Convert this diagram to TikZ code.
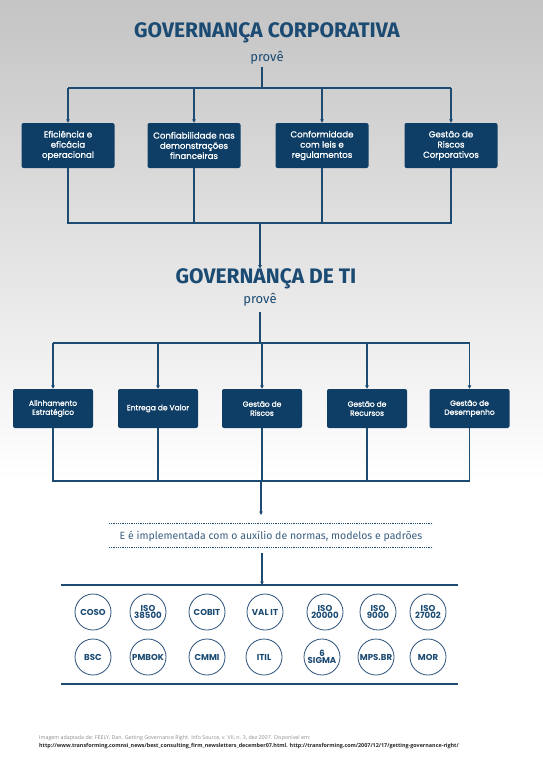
\documentclass[tikz,border=0pt]{standalone}
\usepackage{fontspec}
\setmainfont{Fira Sans}
\newfontfamily\boxfont[FakeBold=1.2]{Poppins}
\newfontfamily\ringfont{Poppins}
\newfontfamily\notefont{Open Sans}
\usepackage{xcolor}
\usetikzlibrary{arrows.meta, positioning, calc}
\definecolor{navyfill}{HTML}{0E3E66}
\definecolor{titletext}{HTML}{1B4A72}
\definecolor{linedraw}{HTML}{1E4B72}
\definecolor{midtext}{HTML}{3A5F80}
\definecolor{ringdraw}{HTML}{2B517A}
\definecolor{bgtop}{HTML}{C4C4C4}
\definecolor{bgmid}{HTML}{E8E8E8}
\tikzset{
  ttl/.style={font=\bfseries\fontsize{21}{23}\selectfont, text=titletext, inner sep=0pt},
  sub/.style={font=\fontsize{13}{14}\selectfont, text=titletext, inner sep=0pt},
  blk/.style={rectangle, rounded corners=2pt, fill=navyfill, text=white, align=center, inner sep=2pt},
  bigbox/.style={blk, minimum width=93pt, minimum height=45pt, font=\boxfont\fontsize{8.6}{10.2}\selectfont},
  smallbox/.style={blk, minimum width=80pt, minimum height=39pt, font=\boxfont\fontsize{7.5}{9}\selectfont},
  ring/.style={circle, draw=ringdraw, line width=0.8pt, minimum size=36pt, inner sep=0pt, align=center, text=titletext, font=\ringfont\bfseries\fontsize{8.6}{7.4}\selectfont},
  ln/.style={draw=linedraw, line width=1.2pt},
  arr/.style={ln, -{Triangle[length=3.5pt, width=3.5pt]}},
  dots/.style={draw=linedraw, line width=0.9pt, dash pattern=on 0.9pt off 0.9pt},
  rule/.style={draw=linedraw, line width=2pt},
}
\begin{document}
\begin{tikzpicture}[x=1pt, y=-1pt]
  % background
  \useasboundingbox (0,0) rectangle (543,768);
  \fill[white] (0,0) rectangle (543,768);
  \shade[top color=bgtop, middle color=bgmid, bottom color=white] (0,0) rectangle (543,480);

  % corporate level
  \node[ttl] (gc) at (267,33) {GOVERNANÇA CORPORATIVA};
  \node[sub] (prove1) at (267,58) {provê};
  \coordinate (busA) at (262,88);
  \node[bigbox] (efic) at (68,145.5) {Eficiência e\\eficácia\\operacional};
  \node[bigbox] (conf) at (194,145.5) {Confiabilidade nas\\demonstrações\\financeiras};
  \node[bigbox] (leis) at (322,145.5) {Conformidade\\com leis e\\regulamentos};
  \node[bigbox] (risc) at (451,145.5) {Gestão de\\Riscos\\Corporativos};
  \draw[ln] (prove1.south -| busA) ++(0,2) -- (busA);
  \draw[ln] (efic |- busA) -- (risc |- busA);
  \draw[arr] (efic |- busA) -- (efic.north);
  \draw[arr] (conf |- busA) -- (conf.north);
  \draw[arr] (leis |- busA) -- (leis.north);
  \draw[arr] (risc |- busA) -- (risc.north);
  \coordinate (busB) at (260,223);
  \draw[ln] (efic.south) -- (efic |- busB) -- (risc |- busB) -- (risc.south);
  \draw[ln] (conf.south) -- (conf |- busB);
  \draw[ln] (leis.south) -- (leis |- busB);

  % IT level
  \node[ttl] (gti) at (266,279) {GOVERNANÇA DE TI};
  \node[sub] (prove2) at (260,300) {provê};
  \draw[arr] (busB) -- (busB |- gti.north);
  \coordinate (busC) at (260,343);
  \node[smallbox] (alin) at (53,408.5) {Alinhamento\\Estratégico};
  \node[smallbox] (entr) at (158,408.5) {Entrega de Valor};
  \node[smallbox] (grisc) at (262,408.5) {Gestão de\\Riscos};
  \node[smallbox] (grec) at (367,408.5) {Gestão de\\Recursos};
  \node[smallbox] (gdes) at (469.5,408.5) {Gestão de\\Desempenho};
  \draw[ln] (prove2.south -| busC) ++(0,5) -- (busC);
  \draw[ln] (alin |- busC) -- (gdes |- busC);
  \draw[arr] (alin |- busC) -- (alin.north);
  \draw[arr] (entr |- busC) -- (entr.north);
  \draw[arr] (grisc |- busC) -- (grisc.north);
  \draw[arr] (grec |- busC) -- (grec.north);
  \draw[arr] (gdes |- busC) -- (gdes.north);
  \coordinate (busD) at (261,481);
  \draw[ln] (alin.south) -- (alin |- busD) -- (gdes |- busD) -- (gdes.south);
  \draw[ln] (entr.south) -- (entr |- busD);
  \draw[ln] (grisc.south) -- (grisc |- busD);
  \draw[ln] (grec.south) -- (grec |- busD);

  % implementation note
  \node[font=\fontsize{10.5}{12}\selectfont, text=midtext, inner sep=0pt] (impl) at (271,536)
    {E é implementada com o auxílio de normas, modelos e padrões};
  \coordinate (implIn) at (261,515);
  \coordinate (implOut) at (262,553);
  \draw[dots] (109,523) -- (433,523);
  \draw[dots] (109,547) -- (433,547);
  \draw[arr] (busD) -- (implIn);
  \coordinate (ruleTop) at (262,585);
  \draw[arr] (implOut) -- (ruleTop);
  \draw[rule] (61,585) -- (458,585);
  \draw[rule] (61,684) -- (458,684);

  % frameworks
  \node[ring] (coso) at (93,612) {COSO};
  \node[ring] (iso385) at (148,612) {ISO\\38500};
  \node[ring] (cobit) at (207,612) {COBIT};
  \node[ring] (valit) at (265,612) {VAL IT};
  \node[ring] (iso200) at (325,612) {ISO\\20000};
  \node[ring] (iso9) at (378,612) {ISO\\9000};
  \node[ring] (iso270) at (428,612) {ISO\\27002};
  \node[ring] (bsc) at (93,657) {BSC};
  \node[ring] (pmbok) at (148,657) {PMBOK};
  \node[ring] (cmmi) at (207,657) {CMMI};
  \node[ring] (itil) at (264,657) {ITIL};
  \node[ring] (sigma) at (322,657) {6\\SIGMA};
  \node[ring] (mpsbr) at (376,657) {MPS.BR};
  \node[ring] (mor) at (428,657) {MOR};

  % source
  \node[anchor=west, inner sep=0pt, font=\notefont\fontsize{5.3}{6}\selectfont, text=black!45] (src1) at (39,738)
    {Imagem adaptada de: FEELY, Dan. Getting Governance Right. Info Source, v. VII, n. 3, dez 2007. Disponível em:};
  \node[anchor=west, inner sep=0pt, font=\notefont\bfseries\fontsize{5.4}{6}\selectfont, text=black!85] (src2) at (39,746)
    {http://www.transforming.comnsi\_news/best\_consulting\_firm\_newsletters\_december07.html. http://transforming.com/2007/12/17/getting-governance-right/};
\end{tikzpicture}
\end{document}
